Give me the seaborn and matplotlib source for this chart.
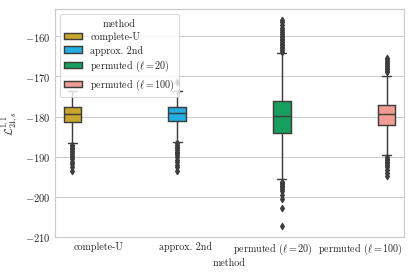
import matplotlib
matplotlib.use("Agg")
import matplotlib.pyplot as plt
from matplotlib.patches import Patch
import pandas as pd
import seaborn as sns

# methods and colours as rendered
methods = ["complete-U", "approx. 2nd", r"permuted ($\ell = 20$)", r"permuted ($\ell = 100$)"]
colors = ["#c9a52c", "#22ade3", "#17a05d", "#f29c94"]

# box statistics
q1 = [-181.4, -181.2, -184.0, -182.2]
median = [-179.4, -179.1, -179.75, -179.4]
q3 = [-177.7, -177.7, -176.0, -177.0]
whisker_lo = [-186.6, -186.4, -195.6, -189.6]
whisker_hi = [-173.5, -173.5, -164.2, -169.8]

# outliers (dense stacks of diamonds)
fliers_lo = [
    [-187.1, -187.4, -187.8, -188.1, -188.5, -188.9, -189.3, -189.8, -190.2, -190.7, -191.3, -191.9, -192.6, -193.5],
    [-186.7, -187.1, -187.5, -187.9, -188.3, -188.8, -189.2, -189.7, -190.2, -190.8, -191.4, -192.0, -192.7, -193.5],
    [-196.3, -196.6, -196.9, -197.3, -197.7, -198.1, -198.6, -199.5, -200.5, -202.9, -207.3],
    [-190.2, -190.5, -190.9, -191.3, -191.7, -192.2, -192.7, -193.3, -194.0, -194.8],
]
fliers_hi = [
    [-171.8],
    [-171.3],
    [-163.8, -163.4, -163.0, -162.6, -162.2, -161.8, -161.4, -161.0, -160.6, -160.2,
     -159.8, -159.3, -158.8, -158.3, -157.8, -157.2, -156.5, -155.8],
    [-169.0, -168.6, -168.2, -167.8, -167.4, -167.0, -166.6, -166.1, -165.7, -165.4],
]

rows = []
for i, m in enumerate(methods):
    vals = (fliers_lo[i] + [whisker_lo[i]] + [q1[i]] * 20 + [median[i]] * 20
            + [q3[i]] * 20 + [whisker_hi[i]] + fliers_hi[i])
    rows += [(m, v) for v in vals]
df = pd.DataFrame(rows, columns=["method", "value"])

sns.set_theme(style="whitegrid", context="notebook")
plt.rcParams["font.family"] = ["cmr10", "DejaVu Serif"]
plt.rcParams["mathtext.fontset"] = "cm"
plt.rcParams["axes.formatter.use_mathtext"] = True
plt.rcParams["axes.unicode_minus"] = True

line = "#3d3d3d"
fig = plt.figure(figsize=(6, 4), dpi=415 / 6)
ax = fig.add_axes([0.1325, 0.142, 0.841, 0.822])

sns.boxplot(data=df, x="method", y="value", hue="method", hue_order=methods,
            order=methods, palette=colors, saturation=1, dodge=True,
            linecolor=line, linewidth=1.5, fliersize=5, legend=False,
            flierprops=dict(marker="d", markerfacecolor=line, markeredgecolor=line),
            ax=ax)

ax.set_xlabel("method", fontsize=10.5, labelpad=1)
ax.set_ylabel(r"$\mathcal{L}^{1,1}_{24,s}$", fontsize=11.5)
ax.yaxis.set_label_coords(-0.1, 0.5)
ax.tick_params(axis="y", labelsize=11, length=0, pad=5)
ax.tick_params(axis="x", labelsize=10.5, length=0, pad=5)
ax.set_yticks([-210, -200, -190, -180, -170, -160])

handles = [Patch(facecolor=c, edgecolor=line, linewidth=1.5, label=m)
           for m, c in zip(methods, colors)]
ax.legend(handles=handles, title="method", loc="upper left", fontsize=10.5,
          title_fontsize=10.5, labelspacing=0.35, handlelength=1.8, handleheight=0.6)

fig.savefig("out.png", dpi=415 / 6)
